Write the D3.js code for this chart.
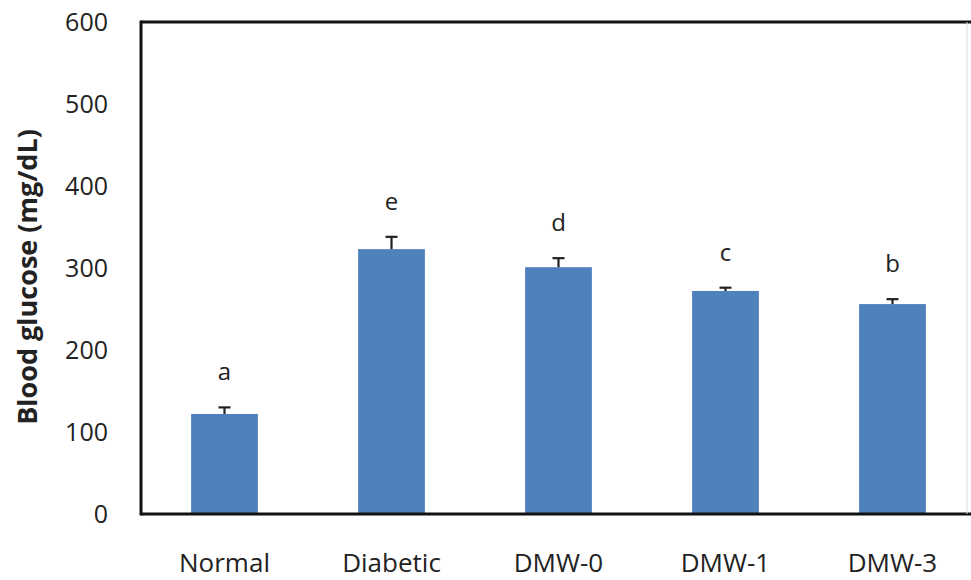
<!DOCTYPE html>
<html>
<head>
<meta charset="utf-8">
<script src="https://cdn.jsdelivr.net/npm/d3@7"></script>
<style>
  html, body { margin: 0; padding: 0; background: #fff; }
  svg { display: block; }
  text { font-family: "Open Sans", "Noto Sans", sans-serif; fill: #222; }
</style>
</head>
<body>
<svg id="chart" width="971" height="580"></svg>
<script>
// Blood glucose by group (mean, SE) with significance letters
const categories = ["Normal", "Diabetic", "DMW-0", "DMW-1", "DMW-3"];
const means = [122, 323, 301, 272, 256];
const errors = [8, 15, 11, 4, 6];
const letters = ["a", "e", "d", "c", "b"];
const yTicks = [0, 100, 200, 300, 400, 500, 600];

const svg = d3.select("#chart");
const plotLeft = 141, plotRight = 976, plotTop = 22, plotBottom = 514;

const x = d3.scaleBand().domain(categories).range([plotLeft, plotRight]).paddingInner(0.6).paddingOuter(0.3);
const y = d3.scaleLinear().domain([0, 600]).range([plotBottom, plotTop]);

// Bars
svg.append("g").selectAll("rect").data(categories).join("rect")
  .attr("x", d => x(d))
  .attr("y", (d, i) => y(means[i]))
  .attr("width", x.bandwidth())
  .attr("height", (d, i) => y(0) - y(means[i]))
  .attr("fill", "#4f81bd");

// Error bars (upper whisker only)
const eb = svg.append("g").attr("stroke", "#222").attr("stroke-width", 2.2);
categories.forEach((c, i) => {
  const cx = x(c) + x.bandwidth() / 2;
  eb.append("line").attr("x1", cx).attr("x2", cx)
    .attr("y1", y(means[i])).attr("y2", y(means[i] + errors[i]));
  eb.append("line").attr("x1", cx - 6).attr("x2", cx + 6)
    .attr("y1", y(means[i] + errors[i])).attr("y2", y(means[i] + errors[i]));
});

// Significance letters
svg.append("g").selectAll("text").data(categories).join("text")
  .attr("x", d => x(d) + x.bandwidth() / 2)
  .attr("y", (d, i) => y(means[i] + errors[i]) - 27)
  .attr("text-anchor", "middle")
  .attr("font-size", 24)
  .text((d, i) => letters[i]);

// Y axis tick labels
const yAxis = d3.axisLeft(y).tickValues(yTicks).tickSize(0).tickPadding(33);
const gy = svg.append("g").attr("transform", `translate(${plotLeft},0)`).call(yAxis);
gy.select(".domain").remove();
gy.selectAll("text").attr("font-size", 25).attr("font-family", "Open Sans, sans-serif").attr("fill", "#222");

// X axis labels
const xAxis = d3.axisBottom(x).tickSize(0).tickPadding(40);
const gx = svg.append("g").attr("transform", `translate(0,${plotBottom})`).call(xAxis);
gx.select(".domain").remove();
gx.selectAll("text").attr("font-size", 26).attr("font-family", "Open Sans, sans-serif").attr("fill", "#222");

// Plot frame
const frame = svg.append("g").attr("stroke", "#111").attr("stroke-width", 3).attr("fill", "none");
frame.append("line").attr("x1", plotLeft).attr("x2", 971).attr("y1", plotTop).attr("y2", plotTop);
frame.append("line").attr("x1", plotLeft).attr("x2", plotLeft).attr("y1", plotTop - 1.5).attr("y2", plotBottom + 1.5);
frame.append("line").attr("x1", plotLeft).attr("x2", 971).attr("y1", plotBottom).attr("y2", plotBottom);
svg.append("line").attr("x1", 967).attr("x2", 967).attr("y1", plotTop).attr("y2", plotBottom)
  .attr("stroke", "#ddd").attr("stroke-width", 1);

// Y axis title
svg.append("text")
  .attr("transform", `translate(37,277) rotate(-90)`)
  .attr("text-anchor", "middle")
  .attr("font-size", 27)
  .attr("font-weight", "bold")
  .text("Blood glucose (mg/dL)");
</script>
</body>
</html>
